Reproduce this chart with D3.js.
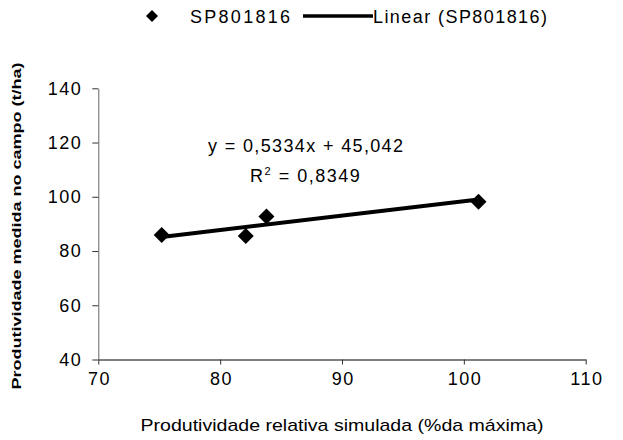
<!DOCTYPE html>
<html><head><meta charset="utf-8">
<script src="https://cdn.jsdelivr.net/npm/d3@7"></script>
<style>body{margin:0;background:#fff;}svg{display:block;font-family:"Liberation Sans",Arial,sans-serif;}</style>
</head><body>
<svg id="c" width="623" height="440"></svg>
<script>
const xValues = [75.2, 82.1, 83.8, 101.2];
const yValues = [85.9, 85.5, 92.7, 98.2];
const xTicks = [70, 80, 90, 100, 110];
const yTicks = [40, 60, 80, 100, 120, 140];
const slope = 0.5334, intercept = 45.042;
const seriesName = "SP801816";
const trendName = "Linear (SP801816)";
const eqText = "y = 0,5334x + 45,042";
const r2Text = "0,8349";
const xTitle = "Produtividade relativa simulada (%da máxima)";
const yTitle = "Produtividade medida no campo (t/ha)";

const FF = '"Liberation Sans",Arial,sans-serif';
const svg = d3.select("#c");
const x = d3.scaleLinear().domain([70, 110]).range([98.3, 585.7]);
const y = d3.scaleLinear().domain([40, 140]).range([359.5, 88.3]);

// axes
const xAxis = svg.append("g").attr("transform", `translate(0,${y(40)})`)
  .call(d3.axisBottom(x).tickValues(xTicks).tickSize(5).tickSizeOuter(0).tickPadding(8));
xAxis.select(".domain").attr("stroke", "#000");
xAxis.selectAll(".tick line").attr("stroke", "#333");
xAxis.selectAll("text").attr("font-size", 18).attr("fill", "#000")
  .attr("font-family", FF).attr("letter-spacing", 1.5).attr("dx", 0.75);

const yAxis = svg.append("g").attr("transform", `translate(${x(70)},0)`)
  .call(d3.axisLeft(y).tickValues(yTicks).tickSize(6).tickSizeOuter(0).tickPadding(10));
yAxis.select(".domain").attr("stroke", "#666");
yAxis.selectAll(".tick line").attr("stroke", "#333");
yAxis.selectAll("text").attr("font-size", 18).attr("fill", "#000")
  .attr("font-family", FF).attr("letter-spacing", 1.5);

// trendline
const xr = d3.extent(xValues);
svg.append("line")
  .attr("x1", x(xr[0])).attr("y1", y(slope * xr[0] + intercept))
  .attr("x2", x(xr[1])).attr("y2", y(slope * xr[1] + intercept))
  .attr("stroke", "#000").attr("stroke-width", 4);

// markers
const dia = r => `M0,${-r}L${r},0L0,${r}L${-r},0Z`;
svg.selectAll(".pt").data(xValues.map((v, i) => [v, yValues[i]])).enter()
  .append("path").attr("class", "pt")
  .attr("d", dia(8))
  .attr("transform", d => `translate(${x(d[0])},${y(d[1])})`)
  .attr("fill", "#000");

// equation
svg.append("text").attr("x", 208).attr("y", 152)
  .attr("font-size", 18).attr("textLength", 195).attr("lengthAdjust", "spacing").text(eqText);
const r2 = svg.append("text").attr("x", 250).attr("y", 182)
  .attr("font-size", 18).attr("letter-spacing", 1.5);
r2.append("tspan").text("R");
r2.append("tspan").attr("font-size", 11).attr("dy", -7).text("2");
r2.append("tspan").attr("dy", 7).text(" = " + r2Text);

// legend
svg.append("path").attr("d", dia(6)).attr("transform", "translate(152,16)").attr("fill", "#000");
svg.append("text").attr("x", 190).attr("y", 23).attr("font-size", 18)
  .attr("textLength", 100).attr("lengthAdjust", "spacing").text(seriesName);
svg.append("line").attr("x1", 303).attr("x2", 373).attr("y1", 16).attr("y2", 16)
  .attr("stroke", "#000").attr("stroke-width", 3.5);
svg.append("text").attr("x", 373).attr("y", 23).attr("font-size", 18)
  .attr("textLength", 174).attr("lengthAdjust", "spacing").text(trendName);

// axis titles
svg.append("text").attr("x", 342).attr("y", 431).attr("text-anchor", "middle")
  .attr("font-size", 17).attr("textLength", 403).attr("lengthAdjust", "spacingAndGlyphs").text(xTitle);
svg.append("text").attr("transform", "translate(21,226) rotate(-90)").attr("text-anchor", "middle")
  .attr("font-size", 13).attr("font-weight", "bold")
  .attr("textLength", 327).attr("lengthAdjust", "spacingAndGlyphs").text(yTitle);
</script>
</body></html>
